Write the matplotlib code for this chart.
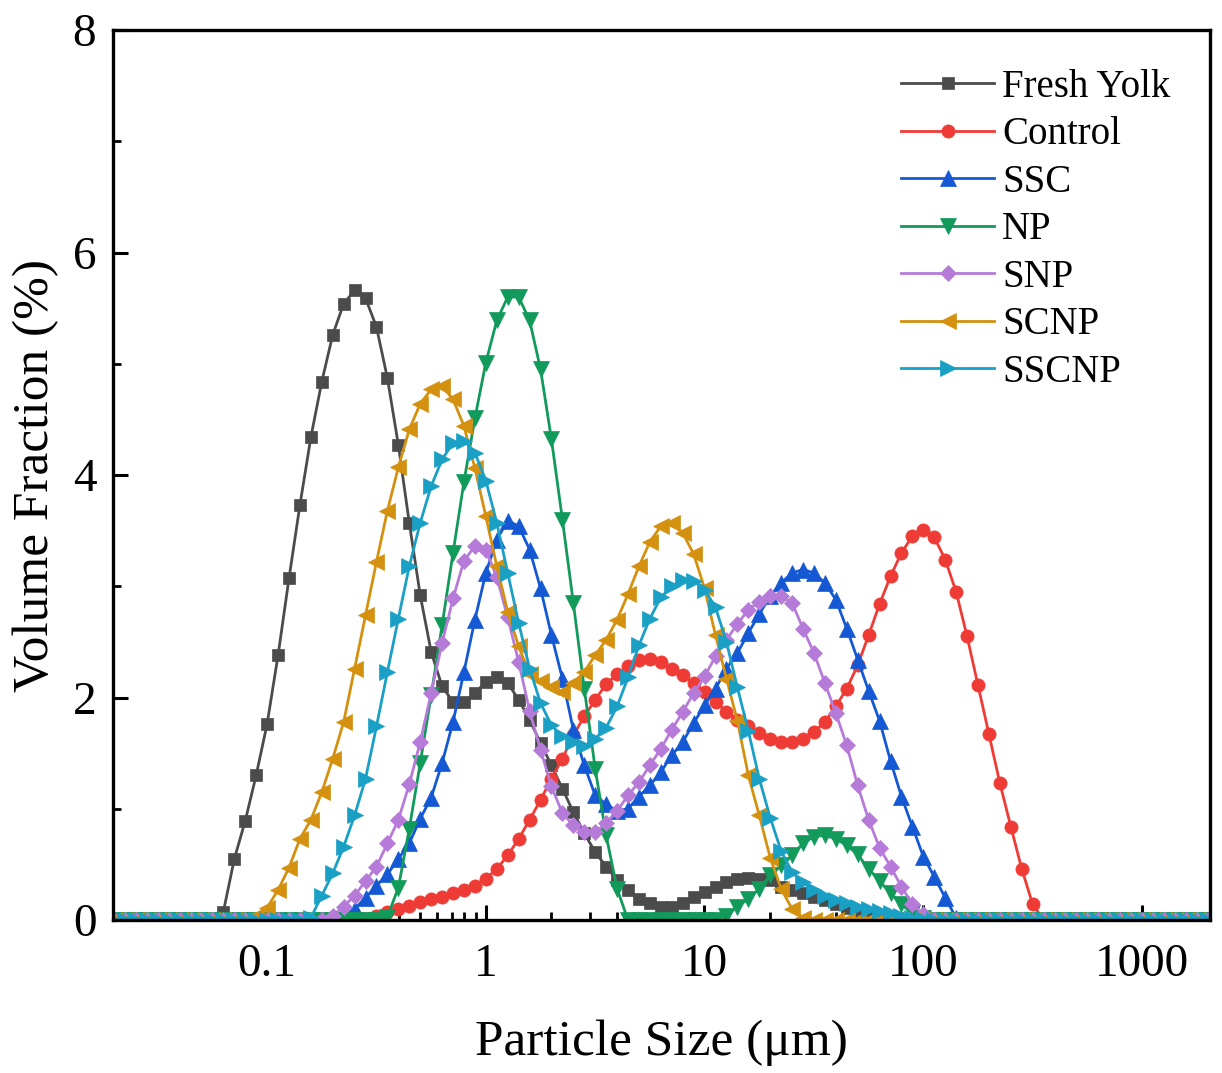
import matplotlib
matplotlib.use("Agg")
import matplotlib.pyplot as plt
import matplotlib.ticker as tick

plt.rcParams['font.family'] = ['Liberation Serif', 'DejaVu Serif']
plt.rcParams['mathtext.fontset'] = 'stix'

# particle size classes (um), laser diffraction grid
sizes = [
    0.0200, 0.0224, 0.0252, 0.0283, 0.0317, 0.0356, 0.0399, 0.0448, 0.0502, 0.0564,
    0.0632, 0.0710, 0.0796, 0.0893, 0.1002, 0.1125, 0.1262, 0.1416, 0.1589, 0.1783,
    0.2000, 0.2244, 0.2518, 0.2825, 0.3170, 0.3557, 0.3991, 0.4477, 0.5024, 0.5637,
    0.6325, 0.7096, 0.7962, 0.8934, 1.002, 1.125, 1.262, 1.416, 1.589, 1.783,
    2.000, 2.244, 2.518, 2.825, 3.170, 3.557, 3.991, 4.477, 5.024, 5.637,
    6.325, 7.096, 7.962, 8.934, 10.024, 11.247, 12.619, 14.159, 15.887, 17.825,
    20.000, 22.440, 25.179, 28.251, 31.698, 35.566, 39.905, 44.774, 50.238, 56.368,
    63.246, 70.963, 79.621, 89.337, 100.237, 112.468, 126.191, 141.589, 158.866, 178.250,
    200.000, 224.404, 251.785, 282.508, 316.979, 355.656, 399.052, 447.744, 502.377, 563.677,
    632.456, 709.627, 796.214, 893.367, 1002.374, 1124.683, 1261.915, 1415.892, 1588.656, 1782.502,
    2000.000,
]

fresh_yolk = [
    0, 0, 0, 0, 0, 0, 0, 0, 0, 0,
    0.07, 0.55, 0.89, 1.30, 1.76, 2.38, 3.07, 3.73, 4.34, 4.84,
    5.26, 5.54, 5.66, 5.59, 5.33, 4.87, 4.27, 3.57, 2.92, 2.41,
    2.10, 1.96, 1.96, 2.04, 2.14, 2.18, 2.13, 1.98, 1.80, 1.59,
    1.39, 1.18, 0.97, 0.78, 0.61, 0.48, 0.36, 0.27, 0.19, 0.15,
    0.12, 0.12, 0.15, 0.21, 0.25, 0.30, 0.34, 0.37, 0.38, 0.37,
    0.36, 0.30, 0.27, 0.24, 0.21, 0.18, 0.14, 0.11, 0.08, 0.05,
    0.03, 0.01, 0, 0, 0, 0, 0, 0, 0, 0,
    0, 0, 0, 0, 0, 0, 0, 0, 0, 0,
    0, 0, 0, 0, 0, 0, 0, 0, 0, 0,
    0,
]
control = [
    0, 0, 0, 0, 0, 0, 0, 0, 0, 0,
    0, 0, 0, 0, 0, 0, 0, 0, 0, 0,
    0, 0, 0, 0.01, 0.04, 0.07, 0.10, 0.13, 0.16, 0.19,
    0.21, 0.24, 0.27, 0.31, 0.37, 0.46, 0.58, 0.73, 0.90, 1.08,
    1.27, 1.45, 1.66, 1.83, 1.98, 2.12, 2.21, 2.28, 2.34, 2.35,
    2.32, 2.26, 2.20, 2.13, 2.05, 1.96, 1.87, 1.80, 1.74, 1.68,
    1.63, 1.60, 1.60, 1.63, 1.69, 1.78, 1.92, 2.08, 2.29, 2.56,
    2.84, 3.09, 3.30, 3.45, 3.51, 3.44, 3.24, 2.95, 2.55, 2.11,
    1.67, 1.23, 0.84, 0.46, 0.14, 0, 0, 0, 0, 0,
    0, 0, 0, 0, 0, 0, 0, 0, 0, 0,
    0,
]
ssc = [
    0, 0, 0, 0, 0, 0, 0, 0, 0, 0,
    0, 0, 0, 0, 0, 0, 0, 0, 0, 0,
    0, 0.03, 0.10, 0.20, 0.31, 0.41, 0.55, 0.69, 0.91, 1.10,
    1.41, 1.78, 2.23, 2.70, 3.12, 3.42, 3.59, 3.54, 3.33, 2.98,
    2.56, 2.17, 1.71, 1.39, 1.12, 1.04, 0.98, 1.00, 1.11, 1.21,
    1.33, 1.48, 1.60, 1.77, 1.93, 2.08, 2.26, 2.40, 2.58, 2.75,
    2.91, 3.03, 3.12, 3.15, 3.12, 3.03, 2.88, 2.62, 2.34, 2.06,
    1.79, 1.43, 1.11, 0.84, 0.57, 0.39, 0.20, 0.02, 0, 0,
    0, 0, 0, 0, 0, 0, 0, 0, 0, 0,
    0, 0, 0, 0, 0, 0, 0, 0, 0, 0,
    0,
]
np_sample = [
    0, 0, 0, 0, 0, 0, 0, 0, 0, 0,
    0, 0, 0, 0, 0, 0, 0, 0, 0, 0,
    0, 0, 0, 0, 0, 0.03, 0.29, 0.82, 1.41, 2.02,
    2.65, 3.30, 3.94, 4.51, 5.01, 5.39, 5.60, 5.60, 5.39, 4.95,
    4.32, 3.60, 2.85, 2.08, 1.36, 0.76, 0.28, 0, 0, 0,
    0, 0, 0, 0, 0, 0, 0.04, 0.12, 0.19, 0.28,
    0.40, 0.49, 0.58, 0.69, 0.75, 0.76, 0.73, 0.67, 0.59, 0.46,
    0.35, 0.24, 0.14, 0.06, 0.02, 0, 0, 0, 0, 0,
    0, 0, 0, 0, 0, 0, 0, 0, 0, 0,
    0, 0, 0, 0, 0, 0, 0, 0, 0, 0,
    0,
]
snp = [
    0, 0, 0, 0, 0, 0, 0, 0, 0, 0,
    0, 0, 0, 0, 0, 0, 0, 0, 0, 0,
    0.04, 0.12, 0.22, 0.35, 0.48, 0.69, 0.90, 1.22, 1.60, 2.04,
    2.49, 2.89, 3.23, 3.36, 3.33, 3.08, 2.72, 2.32, 1.88, 1.53,
    1.20, 0.96, 0.85, 0.79, 0.79, 0.87, 0.98, 1.12, 1.24, 1.39,
    1.54, 1.71, 1.87, 2.04, 2.19, 2.37, 2.52, 2.66, 2.79, 2.86,
    2.91, 2.91, 2.85, 2.62, 2.40, 2.13, 1.86, 1.57, 1.21, 0.90,
    0.65, 0.48, 0.30, 0.14, 0.05, 0, 0, 0, 0, 0,
    0, 0, 0, 0, 0, 0, 0, 0, 0, 0,
    0, 0, 0, 0, 0, 0, 0, 0, 0, 0,
    0,
]
scnp = [
    0, 0, 0, 0, 0, 0, 0, 0, 0, 0,
    0, 0, 0, 0.04, 0.11, 0.27, 0.47, 0.73, 0.90, 1.15,
    1.45, 1.78, 2.26, 2.74, 3.22, 3.68, 4.07, 4.41, 4.64, 4.77,
    4.80, 4.68, 4.44, 4.06, 3.63, 3.18, 2.77, 2.46, 2.21, 2.15,
    2.09, 2.05, 2.13, 2.23, 2.38, 2.52, 2.70, 2.93, 3.18, 3.40,
    3.54, 3.57, 3.48, 3.29, 2.98, 2.56, 2.17, 1.79, 1.30, 0.94,
    0.56, 0.28, 0.10, 0.02, 0, 0, 0, 0, 0, 0,
    0, 0, 0, 0, 0, 0, 0, 0, 0, 0,
    0, 0, 0, 0, 0, 0, 0, 0, 0, 0,
    0, 0, 0, 0, 0, 0, 0, 0, 0, 0,
    0,
]
sscnp = [
    0, 0, 0, 0, 0, 0, 0, 0, 0, 0,
    0, 0, 0, 0, 0, 0, 0, 0, 0.02, 0.22,
    0.42, 0.66, 0.94, 1.27, 1.74, 2.23, 2.71, 3.18, 3.57, 3.90,
    4.14, 4.29, 4.31, 4.20, 3.95, 3.57, 3.12, 2.67, 2.26, 1.95,
    1.75, 1.65, 1.60, 1.56, 1.63, 1.73, 1.92, 2.18, 2.47, 2.71,
    2.90, 3.00, 3.06, 3.05, 2.97, 2.81, 2.50, 2.09, 1.70, 1.27,
    0.92, 0.62, 0.43, 0.34, 0.27, 0.22, 0.18, 0.15, 0.12, 0.10,
    0.08, 0.06, 0.04, 0.02, 0.01, 0, 0, 0, 0, 0,
    0, 0, 0, 0, 0, 0, 0, 0, 0, 0,
    0, 0, 0, 0, 0, 0, 0, 0, 0, 0,
    0,
]

labels = ["Fresh Yolk", "Control", "SSC", "NP", "SNP", "SCNP", "SSCNP"]
series = [fresh_yolk, control, ssc, np_sample, snp, scnp, sscnp]
colors = ["#4b4b4b", "#ef3b36", "#1459d3", "#129a5b", "#b67bd9", "#d4900f", "#1a9fc5"]
markers = ["s", "o", "^", "v", "D", "<", ">"]
msizes = [8.5, 9.5, 11, 11, 8.5, 11, 11]

fig = plt.figure(figsize=(12.22, 10.73), dpi=100)
ax = fig.add_axes([0.0925, 0.1426, 0.8977, 0.8294])

for y, lab, c, m, ms in zip(series, labels, colors, markers, msizes):
    ax.plot(sizes, y, color=c, marker=m, markersize=ms, linewidth=2.0,
            markeredgewidth=0.5, markeredgecolor=c, label=lab)

ax.set_xscale("log")
ax.set_xlim(0.0198, 2050)
ax.set_ylim(0, 8)
ax.xaxis.set_major_locator(tick.LogLocator(base=10, numticks=10))
ax.xaxis.set_minor_locator(tick.LogLocator(base=10, subs=range(2, 10), numticks=20))
ax.xaxis.set_major_formatter(tick.FuncFormatter(lambda v, p: "%g" % v))
ax.xaxis.set_minor_formatter(tick.NullFormatter())
ax.yaxis.set_major_locator(tick.MultipleLocator(2))
ax.yaxis.set_minor_locator(tick.MultipleLocator(1))

ax.tick_params(which="major", direction="in", length=11, width=2.2, labelsize=34, pad=12,
               top=False, right=False)
ax.tick_params(axis="x", which="major", pad=17)
ax.tick_params(which="minor", direction="in", length=6, width=2.0, top=False, right=False)
for s in ax.spines.values():
    s.set_linewidth(2.4)

ax.set_xlabel("Particle Size (μm)", fontsize=37, labelpad=24)
ax.set_ylabel("Volume Fraction (%)", fontsize=37, labelpad=10)

ax.legend(loc="upper right", bbox_to_anchor=(0.978, 0.974), frameon=False, fontsize=28,
          handlelength=2.4, handletextpad=0.2, labelspacing=0.27, borderaxespad=0)

fig.savefig("out.png", dpi=100)
